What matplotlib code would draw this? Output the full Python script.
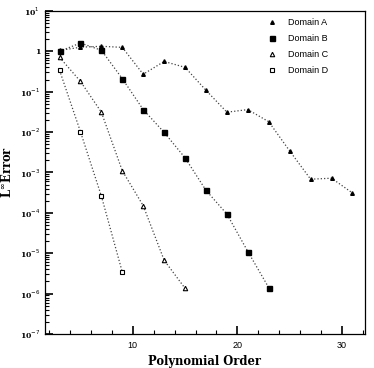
import matplotlib
matplotlib.use("Agg")
import matplotlib.pyplot as plt
from matplotlib.ticker import LogLocator, FixedLocator, MultipleLocator, NullFormatter

# polynomial orders and errors
order_a = [3, 5, 7, 9, 11, 13, 15, 17, 19, 21, 23, 25, 27, 29, 31]
err_a = [1.05, 1.26, 1.33, 1.25, 0.27, 0.56, 0.40, 0.108, 0.031, 0.036, 0.018,
         0.0034, 0.00068, 0.00072, 0.00031]
order_b = [3, 5, 7, 9, 11, 13, 15, 17, 19, 21, 23]
err_b = [1.0, 1.6, 1.06, 0.21, 0.036, 0.0098, 0.0023, 0.00036, 9.3e-5, 1.1e-5, 1.4e-6]
order_c = [3, 5, 7, 9, 11, 13, 15]
err_c = [0.71, 0.18, 0.031, 0.0011, 1.5e-4, 6.7e-6, 1.35e-6]
order_d = [3, 5, 7, 9]
err_d = [0.34, 0.0102, 2.6e-4, 3.4e-6]

ytick_vals = [1e1, 1, 1e-1, 1e-2, 1e-3, 1e-4, 1e-5, 1e-6, 1e-7]
ytick_labels = ["10$^{1}$", "1", "10$^{-1}$", "10$^{-2}$", "10$^{-3}$",
                "10$^{-4}$", "10$^{-5}$", "10$^{-6}$", "10$^{-7}$"]

fig = plt.figure(figsize=(3.74, 3.68), dpi=100)
ax = fig.add_axes([0.120, 0.0924, 0.856, 0.878])

line_kw = dict(ls=":", lw=0.9, color="#444444")
ax.plot(order_a, err_a, marker="^", ms=2.6, mfc="k", mec="k", label="Domain A", **line_kw)
ax.plot(order_b, err_b, marker="s", ms=3.6, mfc="k", mec="k", label="Domain B", **line_kw)
ax.plot(order_c, err_c, marker="^", ms=3.2, mfc="white", mec="k", mew=0.8,
        label="Domain C", **line_kw)
ax.plot(order_d, err_d, marker="s", ms=3.0, mfc="white", mec="k", mew=0.8,
        label="Domain D", **line_kw)

ax.set_yscale("log")
ax.set_ylim(1e-7, 1e1)
ax.set_xlim(1.6, 32.2)

ax.yaxis.set_major_locator(FixedLocator(ytick_vals))
ax.set_yticklabels(ytick_labels, fontfamily="DejaVu Serif", fontweight="bold", fontsize=5.5)
ax.yaxis.set_minor_locator(LogLocator(base=10, subs=range(2, 10), numticks=20))
ax.yaxis.set_minor_formatter(NullFormatter())

ax.xaxis.set_major_locator(FixedLocator([10, 20, 30]))
ax.xaxis.set_minor_locator(MultipleLocator(2))
for lbl in ax.get_xticklabels():
    lbl.set_fontfamily("Liberation Sans")
ax.tick_params(axis="x", labelsize=6.5, pad=5)

ax.tick_params(which="both", direction="in", top=False, right=False, width=0.8)
ax.tick_params(which="major", length=6, width=1.2)
ax.tick_params(which="minor", length=3)
for s in ax.spines.values():
    s.set_linewidth(0.9)

ax.set_xlabel("Polynomial Order", fontfamily="DejaVu Serif", fontweight="bold", fontsize=8.3)
ax.set_ylabel("L$^{\\infty}$Error", fontfamily="DejaVu Serif", fontweight="bold", fontsize=8.3)
ax.yaxis.set_label_coords(-0.095, 0.5)

leg = ax.legend(loc="upper right", bbox_to_anchor=(0.895, 0.99), frameon=False,
                handlelength=1.0, labelspacing=0.8, borderaxespad=0.0, handletextpad=1.2,
                prop={"family": "Liberation Sans", "size": 6.5})
for h in leg.get_lines():
    h.set_linestyle("")

fig.savefig("out.png", dpi=100)
